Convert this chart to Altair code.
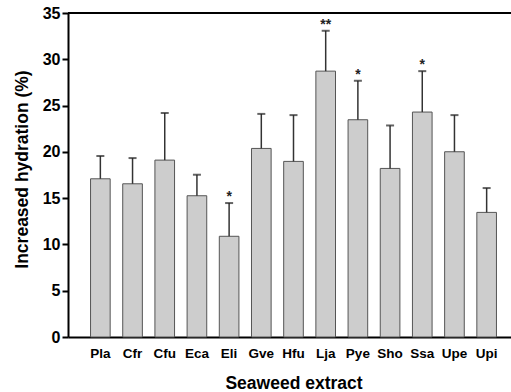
import altair as alt
import pandas as pd

categories = ["Pla", "Cfr", "Cfu", "Eca", "Eli", "Gve", "Hfu", "Lja", "Pye", "Sho", "Ssa", "Upe", "Upi"]
means = [17.09, 16.55, 19.11, 15.26, 10.88, 20.37, 18.97, 28.72, 23.47, 18.21, 24.30, 20.01, 13.46]
errors = [2.46, 2.78, 5.09, 2.27, 3.59, 3.73, 5.00, 4.36, 4.21, 4.64, 4.42, 3.96, 2.63]
stars = ["", "", "", "", "*", "", "", "**", "*", "", "*", "", ""]
y_ticks = [0, 5, 10, 15, 20, 25, 30, 35]

df = pd.DataFrame({"cat": categories, "mean": means, "err": errors, "star": stars})
df["upper"] = df["mean"] + df["err"]

FONT = "Liberation Sans"

x = alt.X(
    "cat:N",
    sort=categories,
    scale=alt.Scale(range=[0, 451], paddingInner=0.39, paddingOuter=0.70),
    axis=alt.Axis(
        title="Seaweed extract", labelAngle=0, ticks=False, labelPadding=9,
        labelFontSize=13.5, labelFontWeight="bold", labelFont=FONT, labelColor="black",
        titleFontSize=17.5, titleFontWeight="bold", titleFont=FONT, titleColor="black",
        titlePadding=15, domainColor="black", domainWidth=2,
    ),
)
y = alt.Y(
    "mean:Q",
    scale=alt.Scale(domain=[0, 35], nice=False, zero=True),
    axis=alt.Axis(
        title="Increased hydration (%)", values=y_ticks, grid=False,
        tickSize=6, tickWidth=2, tickColor="black", labelPadding=2,
        labelFontSize=16, labelFontWeight="bold", labelFont=FONT, labelColor="black",
        titleFontSize=17.5, titleFontWeight="bold", titleFont=FONT, titleColor="black",
        titlePadding=11, titleY=156, domainColor="black", domainWidth=2,
    ),
)

base = alt.Chart(df)

bars = base.mark_bar(fill="#cdcdcd", stroke="#555555", strokeWidth=1).encode(x=x, y=y)
err_lines = base.mark_rule(color="#333333", strokeWidth=1.5).encode(
    x=alt.X("cat:N", sort=categories), y="mean:Q", y2="upper:Q"
)
caps = base.mark_tick(color="#222222", size=8, thickness=2).encode(
    x=alt.X("cat:N", sort=categories), y="upper:Q"
)
star_text = base.mark_text(
    font=FONT, fontSize=14, fontWeight="bold", color="#222222", baseline="alphabetic", dy=-2
).encode(x=alt.X("cat:N", sort=categories), y="upper:Q", text="star:N")
top_line = base.mark_rule(color="black", strokeWidth=2).encode(
    x=alt.value(0), x2=alt.value(451), y=alt.value(0)
)

chart = (
    alt.layer(bars, err_lines, caps, star_text, top_line)
    .properties(
        width=443, height=324,
        autosize=alt.AutoSizeParams(type="none"),
        padding={"left": 68, "top": 13, "right": 0, "bottom": 55},
        background="white",
    )
    .configure_view(stroke=None)
)

chart.save("out.html", embed_options={"renderer": "svg", "actions": False})
